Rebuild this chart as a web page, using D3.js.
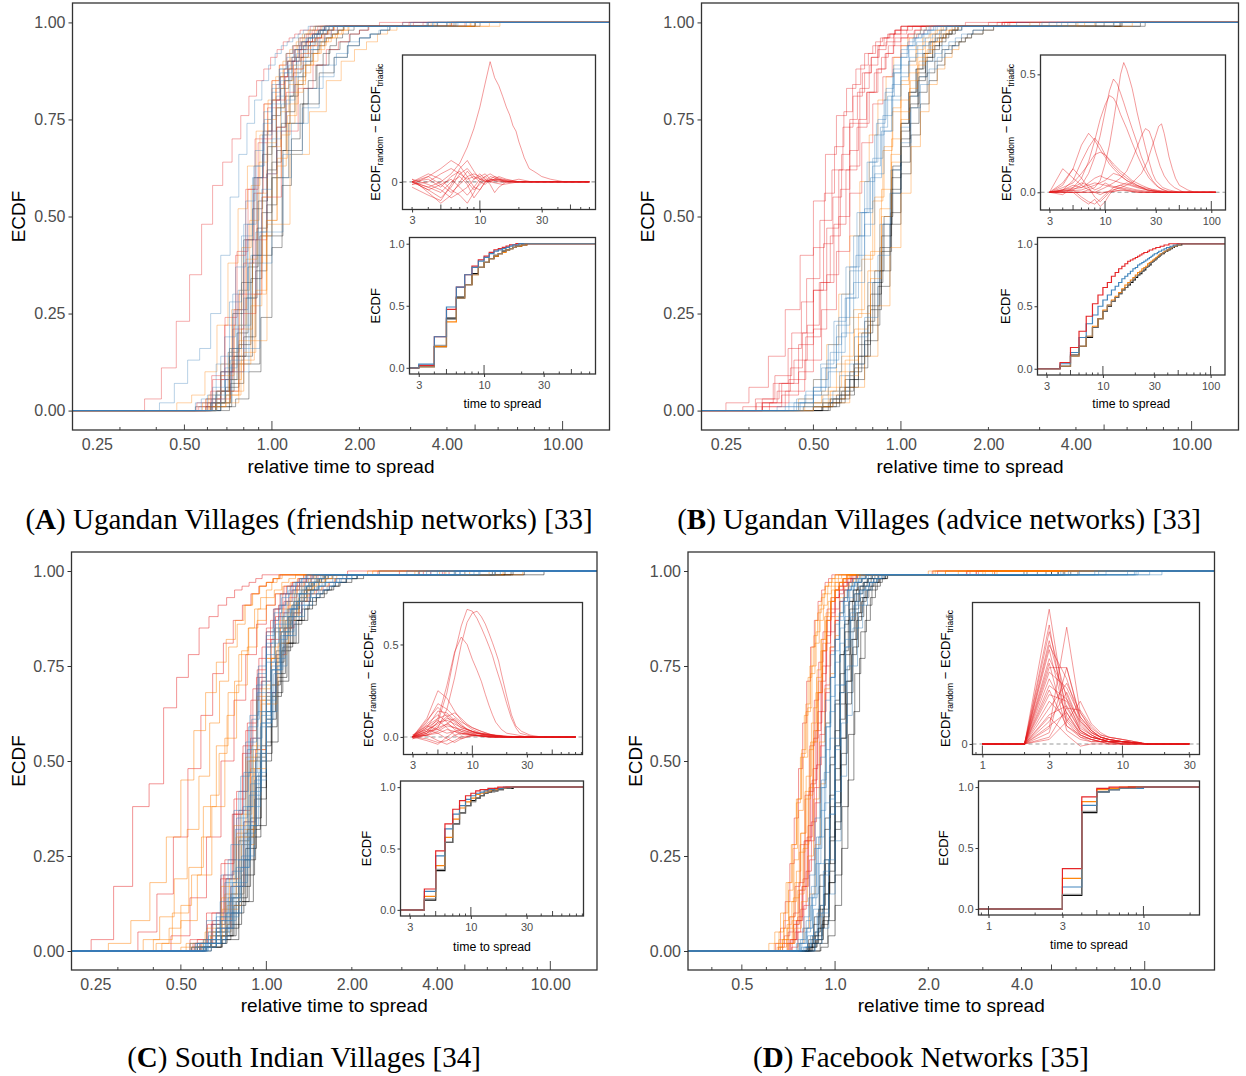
<!DOCTYPE html>
<html>
<head>
<meta charset="utf-8">
<script src="https://cdn.jsdelivr.net/npm/d3@7"></script>
<style>
body { margin: 0; background: #fff; }
svg { display: block; }
svg text { font-family: "Liberation Sans", Arial, sans-serif; }
</style>
</head>
<body>
<svg width="1246" height="1076"></svg>
<script>
// ---- data ----
// main curves: [colour, normaliser, first time, ECDF % at consecutive times, time where it hits 100%]
var curvesA = [
    ['r', 19.2, 7, [3,11,23,35,48,58,64,70,76,81,85,88,91,93,95,96,97,98,98,99,99], 45],
    ['b', 19.5, 8, [2,7,13,16,25,40,55,66,74,80,85,89,92,94,95,96,97,98,99], 55],
    ['o', 17, 8, [2,4,10,22,38,52,63,72,79,85,89,92,94,96,97,98,99], 60],
    ['b', 14, 8, [3,12,28,45,60,71,79,85,89,92,94,96,97,98,99], 50],
    ['r', 14.5, 8, [2,9,24,41,57,69,78,84,88,91,94,95,97,98,99], 48],
    ['k', 13, 8, [2,6,17,34,51,64,74,81,86,90,93,95,96,97,98,99], 55],
    ['o', 13, 8, [1,4,12,27,45,60,71,79,85,89,92,94,96,97,98,99], 65],
    ['b', 15, 9, [4,14,30,48,63,74,82,87,90,93,95,96,97,98,99], 45],
    ['k', 14, 9, [5,16,33,52,66,76,83,88,91,94,95,97,98,99], 52],
    ['r', 13.5, 8, [3,10,26,44,60,72,80,86,90,93,95,96,97,98,99], 40],
    ['o', 12.5, 8, [2,5,15,31,49,63,74,82,87,90,93,95,96,97,98,99], 70],
    ['k', 12, 8, [1,3,10,24,42,58,70,79,85,89,92,94,96,97,98,99], 60],
    ['b', 16, 10, [6,19,37,54,67,77,84,88,91,93,95,96,97,98,99], 55],
    ['r', 16, 10, [8,22,40,57,70,79,85,89,92,94,96,97,98,99], 45],
    ['o', 14, 9, [2,8,21,38,55,68,77,84,88,91,94,95,97,98,99], 58],
    ['k', 15, 10, [10,25,44,60,72,80,86,90,93,95,96,97,98,99], 62],
    ['b', 12.5, 8, [4,13,29,46,61,72,80,86,90,93,95,97,98,99], 50],
    ['o', 15.5, 10, [5,15,31,49,64,75,83,88,91,94,96,97,98,99], 75],
    ['o', 5.2, 3, [2,18,48,66,77,85,90,93,95,97,98,99], 25],
    ['k', 5.5, 3, [1,12,45,67,79,87,91,94,96,97,98,99], 22],
    ['b', 6, 4, [10,38,60,74,83,89,92,95,96,97,98,99], 28],
    ['k', 13.5, 8, [1,5,14,29,47,62,73,81,87,91,94,96,97,98,99], 58],
    ['k', 14.5, 9, [2,8,20,37,54,68,78,85,90,93,95,97,98,99], 50],
    ['k', 12.5, 8, [2,7,19,36,53,67,77,84,89,92,94,96,97,98,99], 65],
    ['o', 13.5, 8, [3,9,22,39,56,69,78,85,89,92,95,96,97,98,99], 55],
    ['o', 16.5, 10, [4,12,26,42,58,71,80,86,90,93,95,97,98,99], 60],
    ['o', 11.5, 7, [1,4,13,30,49,65,76,84,89,92,95,96,97,98,99], 70],
    ['b', 13, 8, [2,8,22,40,57,70,79,86,90,93,95,97,98,99], 48],
    ['b', 14.5, 9, [3,11,26,44,60,72,81,87,91,94,96,97,98,99], 52],
    ['b', 17, 11, [5,15,31,48,63,75,83,88,92,94,96,97,98,99], 58],
    ['r', 15, 9, [2,8,21,38,56,70,80,86,90,93,95,97,98,99], 46],
    ['r', 12.5, 7, [1,3,10,25,44,61,73,82,88,92,94,96,97,98,99], 52],
    ['r', 6.5, 4, [5,30,55,72,83,89,93,95,97,98,99], 30],
    ['b', 5.5, 3, [2,16,46,66,78,86,91,94,96,97,98,99], 24],
    ['k', 7, 5, [14,40,60,74,83,89,93,95,97,98,99], 35]
];
var curvesB = [
    ['r', 20, 5, [2,6,14,26,40,54,66,76,83,88,92,94,96,97,98,99], 40],
    ['r', 19, 6, [3,9,20,34,49,62,73,81,87,91,94,96,97,98,99], 45],
    ['r', 18, 6, [1,4,10,21,35,50,63,74,82,88,92,94,96,97,98,99], 42],
    ['r', 22, 7, [2,7,16,28,42,56,68,77,84,89,92,95,96,97,98,99], 50],
    ['r', 17, 6, [2,8,19,33,48,62,73,82,88,92,95,96,97,98,99], 38],
    ['r', 15, 5, [1,5,13,26,41,56,69,79,86,91,94,96,97,98,99], 45],
    ['r', 24, 8, [2,5,11,20,31,43,55,66,75,82,87,91,94,96,97,98,99], 40],
    ['r', 21, 6, [1,3,7,13,22,33,45,57,67,75,82,87,91,94,96,97,98,99], 45],
    ['r', 18, 6, [2,7,17,31,47,62,74,83,89,93,95,97,98,99], 40],
    ['b', 17, 7, [2,5,12,23,37,51,64,74,82,88,92,94,96,97,98,99], 55],
    ['b', 15, 6, [1,4,11,22,36,51,65,76,84,89,93,95,97,98,99], 60],
    ['b', 14, 6, [2,6,15,29,45,60,72,81,87,91,94,96,97,98,99], 50],
    ['b', 16, 6, [1,3,8,17,30,45,59,71,80,87,91,94,96,97,98,99], 55],
    ['b', 12, 6, [2,5,12,24,40,56,69,78,84,88,91,93,94,95,96,97,97,98,98,99,99], 65],
    ['b', 16, 7, [1,4,10,20,33,48,61,72,80,86,90,92,94,95,96,97,97,98,98,99,99], 60],
    ['b', 13, 6, [1,3,9,19,33,48,62,73,81,86,90,92,94,95,96,97,97,98,98,99,99], 70],
    ['b', 18, 8, [2,6,13,24,37,51,64,75,83,89,93,95,97,98,99], 55],
    ['b', 20, 9, [2,5,11,19,29,40,52,63,73,81,87,91,94,96,97,98,99], 50],
    ['o', 14, 7, [1,3,9,20,34,50,64,75,83,89,92,95,96,97,98,99], 65],
    ['o', 15, 7, [2,5,12,24,39,54,67,77,84,89,93,95,97,98,99], 60],
    ['o', 13, 6, [1,4,10,21,36,52,66,77,85,90,93,95,97,98,99], 70],
    ['o', 18, 8, [3,8,17,30,45,59,71,80,86,91,94,96,97,98,99], 50],
    ['o', 16, 8, [2,6,14,26,40,55,68,78,85,90,94,96,97,98,99], 65],
    ['o', 12, 6, [1,2,6,14,27,42,56,68,77,84,88,91,93,95,96,97,97,98,98,99,99], 75],
    ['o', 14, 7, [2,5,13,25,41,57,70,80,87,91,94,96,97,98,99], 60],
    ['k', 13, 7, [2,6,14,27,42,57,70,79,86,91,94,96,97,98,99], 75],
    ['k', 12, 6, [1,3,8,18,32,48,61,71,79,85,89,92,94,95,96,97,97,98,98,99,99], 80],
    ['k', 14, 8, [2,6,14,26,41,56,68,78,85,90,93,95,97,98,99], 70],
    ['k', 15, 8, [1,4,10,20,33,48,62,74,82,88,92,95,96,97,98,99], 85],
    ['k', 14, 7, [1,3,8,17,30,45,60,72,81,87,91,94,96,97,98,99], 80],
    ['k', 16, 9, [2,5,12,23,36,50,63,74,82,88,92,95,97,98,99], 75],
    ['k', 13, 7, [1,4,11,22,36,51,64,74,82,87,90,93,94,95,96,97,98,98,99,99], 90]
];
var curvesC = [
    ['r', 20.7, 5, [3,17,38,44,64,72,78,85,88,91,93,95,96,97,98,99], 40],
    ['o', 18, 5, [2,8,18,30,45,58,68,76,82,87,91,94,96,97,98,99], 45],
    ['r', 17, 6, [5,15,30,48,62,73,81,87,91,94,96,97,98,99], 42],
    ['o', 15, 6, [3,10,22,38,54,68,78,85,90,93,95,97,98,99], 50],
    ['o', 14, 6, [2,8,20,38,56,70,80,87,91,94,96,97,98,99], 48],
    ['r', 13, 6, [4,14,30,50,66,78,86,91,94,96,97,98,99], 45],
    ['o', 22, 9, [2,6,12,20,30,41,52,62,71,79,85,90,93,95,97,98,99], 50],
    ['o', 19, 7, [3,9,19,32,46,60,71,80,86,91,94,96,97,98,99], 45],
    ['b', 16, 9, [2,5,9,14,22,33,47,61,73,82,88,92,95,97,98,99], 55],
    ['b', 13, 7, [2,8,20,37,55,70,80,86,89,91,93,94,95,96,97,97,98,98,99,99], 70],
    ['b', 12, 7, [1,5,15,31,50,66,77,84,88,91,93,94,95,96,97,98,98,99,99], 60],
    ['b', 14, 8, [2,7,18,35,53,68,78,84,88,90,92,94,95,96,97,97,98,98,99,99], 65],
    ['b', 13.5, 8, [1,4,13,28,46,63,76,85,90,94,96,97,98,99], 65],
    ['b', 15, 9, [3,10,24,42,59,73,83,89,93,95,97,98,99], 55],
    ['b', 11, 6, [1,3,10,25,45,63,75,83,88,91,93,95,96,97,97,98,98,99,99], 70],
    ['b', 16, 10, [4,13,28,46,62,75,84,90,94,96,97,98,99], 50],
    ['b', 12.5, 8, [2,9,24,44,62,75,83,88,91,93,95,96,97,97,98,98,99,99], 60],
    ['b', 18, 11, [3,9,19,32,47,61,72,81,87,91,94,96,97,98,99], 45],
    ['b', 12, 7, [2,6,17,34,52,68,79,87,92,95,97,98,99], 55],
    ['b', 13, 8, [2,6,17,33,51,67,78,86,91,94,96,97,98,99], 60],
    ['b', 14.5, 9, [2,8,21,38,56,71,81,88,92,95,97,98,99], 55],
    ['b', 11.5, 7, [2,8,22,41,60,74,84,90,94,96,97,98,99], 65],
    ['b', 12.5, 7, [1,3,10,24,42,60,74,84,90,94,96,97,98,99], 70],
    ['b', 15, 9, [1,5,14,29,47,63,76,85,91,94,96,97,98,99], 60],
    ['b', 10.5, 6, [2,6,18,38,59,74,83,89,92,94,96,97,97,98,98,99,99], 70],
    ['o', 13, 7, [2,6,17,33,51,67,77,84,88,91,93,95,96,97,98,98,99,99], 60],
    ['o', 12.5, 7, [1,4,13,29,48,65,77,85,91,94,96,97,98,99], 65],
    ['o', 14, 8, [1,5,15,31,50,66,77,85,90,94,96,97,98,99], 60],
    ['o', 11.5, 6, [2,5,14,30,50,66,77,84,89,92,94,95,96,97,98,98,99,99], 70],
    ['o', 10, 5, [1,3,11,30,53,70,81,88,93,96,97,98,99], 80],
    ['o', 12, 7, [1,5,15,32,51,67,79,87,92,95,97,98,99], 60],
    ['o', 13.5, 8, [2,7,19,36,54,69,80,87,92,95,97,98,99], 55],
    ['o', 11, 6, [1,4,12,28,48,65,78,87,92,95,97,98,99], 75],
    ['r', 13, 7, [3,10,23,40,58,72,82,88,92,95,97,98,99], 55],
    ['r', 12, 7, [2,6,17,34,53,68,78,85,89,92,94,95,96,97,98,98,99,99], 50],
    ['r', 14.5, 8, [2,7,19,36,54,69,80,87,91,94,96,97,98,99], 55],
    ['r', 17, 10, [2,8,20,36,52,66,77,85,90,94,96,97,98,99], 50],
    ['r', 12.5, 7, [2,7,19,37,56,71,82,89,93,96,97,98,99], 55],
    ['r', 14, 8, [3,10,24,42,60,74,84,90,94,96,97,98,99], 50],
    ['k', 11, 6, [1,2,7,20,40,59,72,81,87,90,93,94,95,96,97,98,98,99,99], 80],
    ['k', 12, 7, [1,3,10,24,43,61,73,81,86,90,92,94,95,96,97,97,98,98,99,99], 75],
    ['k', 10.5, 6, [1,4,14,32,52,68,80,87,92,95,97,98,99], 85],
    ['k', 13, 8, [1,4,12,27,46,63,76,85,90,94,96,97,98,99], 90],
    ['k', 11.5, 7, [1,4,13,30,50,67,79,87,92,95,97,98,99], 85],
    ['k', 12.5, 8, [2,6,17,35,54,70,81,88,92,95,97,98,99], 80],
    ['k', 10, 6, [1,3,13,33,55,71,81,87,91,93,95,96,97,97,98,98,99,99], 95]
];
var curvesD = [
    ['o', 30, 20, [2,6,14,26,40,55,68,79,87,92,95,97,98,99], 90],
    ['o', 31, 21, [3,9,18,31,46,60,72,82,89,93,96,97,98,99], 100],
    ['o', 29, 22, [2,6,15,28,44,60,73,83,89,93,96,97,98,99], 95],
    ['o', 33, 22, [1,3,8,16,27,41,55,68,79,87,92,95,97,98,99], 75],
    ['o', 38, 25, [2,6,13,24,37,51,64,75,84,90,94,96,97,98,99], 80],
    ['o', 36, 22, [2,5,10,18,28,40,52,63,73,81,87,91,94,96,97,97,98,98,99], 110],
    ['o', 34, 24, [2,7,15,28,43,58,71,81,88,92,95,96,97,98,99], 85],
    ['o', 27, 19, [2,6,13,25,40,55,69,80,88,93,96,97,98,99], 90],
    ['o', 40, 26, [1,3,7,13,21,31,42,53,64,74,82,88,92,95,97,98,99], 80],
    ['o', 44, 28, [2,5,10,18,28,39,51,62,72,80,87,91,94,96,97,98,99], 100],
    ['o', 41, 27, [3,8,16,27,40,53,65,75,83,89,93,96,97,98,99], 85],
    ['r', 30, 21, [2,7,16,29,44,58,71,81,88,93,95,97,98,99], 80],
    ['r', 29, 21, [1,5,12,24,39,54,68,79,87,92,95,97,98,99], 95],
    ['r', 32, 23, [3,8,17,30,45,60,73,83,89,93,96,97,98,99], 85],
    ['r', 31, 22, [2,5,11,21,34,49,63,75,84,90,94,96,97,98,99], 90],
    ['r', 34, 23, [2,5,10,18,29,42,56,68,79,87,92,95,97,98,99], 70],
    ['r', 35, 23, [1,4,9,17,28,41,54,66,76,84,90,93,95,96,97,98,98,99], 100],
    ['r', 33, 24, [3,9,19,33,48,63,75,84,90,93,95,96,97,98,98,99], 90],
    ['r', 28, 20, [3,8,17,29,43,57,70,80,87,92,95,97,98,99], 80],
    ['r', 42, 27, [2,6,13,23,35,48,60,71,80,87,92,95,97,98,99], 90],
    ['b', 28, 21, [2,6,14,27,43,59,72,82,89,93,96,97,98,99], 150],
    ['b', 29, 22, [3,9,20,35,51,66,78,86,92,95,97,98,99], 200],
    ['b', 27, 21, [1,4,11,23,39,56,70,81,88,93,96,97,98,99], 280],
    ['b', 26, 20, [2,6,15,30,47,63,76,85,91,95,97,98,99], 160],
    ['b', 30, 23, [2,5,12,23,37,53,67,79,87,92,95,97,98,99], 170],
    ['b', 25, 20, [1,3,9,20,36,54,70,82,89,94,96,97,98,99], 220],
    ['b', 32, 25, [2,6,14,27,43,59,72,82,89,93,95,96,97,97,98,98,99,99], 300],
    ['b', 27, 22, [2,5,12,24,40,56,70,80,87,91,94,95,96,97,97,98,98,99,99], 250],
    ['b', 24, 19, [1,4,10,21,36,53,68,80,88,92,95,96,97,98,98,99,99], 180],
    ['b', 31, 24, [3,8,17,30,45,60,72,82,88,92,95,96,97,98,98,99], 220],
    ['b', 21, 18, [3,10,24,42,60,75,85,91,95,97,98,99], 200],
    ['b', 22, 19, [2,6,15,29,46,62,75,85,91,95,97,98,99], 250],
    ['k', 27, 22, [2,7,17,32,49,65,78,87,92,95,97,98,99], 110],
    ['k', 26, 21, [1,4,11,24,41,58,73,84,90,94,96,97,98,99], 130],
    ['k', 25, 21, [2,6,15,30,48,65,78,87,92,95,97,98,99], 120],
    ['k', 28, 23, [3,9,20,35,51,66,78,86,92,95,97,98,99], 140],
    ['k', 24, 20, [1,3,9,21,38,56,71,82,89,93,96,97,98,99], 100],
    ['k', 23, 19, [1,3,8,18,32,49,65,78,87,92,95,96,97,98,98,99,99], 140],
    ['k', 22, 18, [1,4,11,23,39,56,71,82,89,93,95,97,98,98,99,99], 120],
    ['k', 29, 24, [2,5,12,23,38,54,68,79,87,92,95,96,97,98,98,99,99], 160],
    ['k', 26, 22, [2,6,15,29,45,61,74,84,90,94,96,97,98,98,99,99], 150],
    ['k', 21, 18, [2,7,18,34,52,68,80,88,93,96,97,98,99], 110],
    ['k', 20, 18, [1,4,12,27,45,63,77,87,93,96,98,99], 90],
    ['k', 19, 17, [2,8,20,38,57,73,84,91,95,97,98,99], 100]
];

// difference curves (upper insets): flat [time, value*100, ...]
var topA = [
    [3,0, 4,-2, 5,0, 6,3, 7,7, 8,13, 9,20, 10,28, 11,37, 12,45, 13,39, 14,36, 15,32, 16,28, 17,25, 18,21, 19,19, 20,15, 21,12, 22,9, 23,7, 24,5, 26,4, 28,3, 30,2, 35,1, 45,0],
    [3,0, 4,-3, 5,-6, 6,-2, 7,3, 8,5, 9,2, 10,0, 11,-1, 12,1, 13,2, 14,1, 16,0, 20,1, 25,0],
    [3,-1, 4,2, 5,5, 6,8, 7,6, 8,2, 9,-2, 10,-3, 11,0, 12,2, 14,1, 18,0],
    [3,1, 4,-4, 5,-8, 6,-5, 7,0, 8,4, 9,1, 10,2, 11,3, 12,1, 14,0],
    [3,0, 4,3, 5,1, 6,-3, 7,-5, 8,-8, 9,-4, 10,0, 11,2, 12,3, 13,2, 15,1, 20,0],
    [3,-2, 4,-5, 5,-7, 6,-1, 7,5, 8,8, 9,4, 10,1, 11,0, 13,1, 16,0],
    [3,0, 4,1, 5,-2, 6,2, 7,4, 8,0, 9,-3, 10,-1, 11,1, 12,0, 14,2, 16,1, 20,0],
    [3,1, 4,-1, 5,-3, 6,-6, 7,-4, 8,-2, 9,1, 10,3, 11,1, 12,-1, 13,-4, 14,-2, 16,0],
    [3,0, 4,-2, 5,-4, 6,0, 7,2, 8,-1, 9,-6, 10,-3, 11,0, 12,1, 15,0],
    [3,-1, 4,0, 5,3, 6,5, 7,3, 8,1, 9,2, 10,1, 12,0, 14,1, 18,0],
    [3,0, 4,-3, 5,-1, 6,1, 7,-2, 8,-5, 9,-2, 10,1, 11,2, 12,0, 15,-1, 20,0],
    [3,0, 4,2, 5,-1, 6,-4, 7,-1, 8,2, 9,3, 10,2, 11,0, 13,1, 17,0]
];
var topB = [
    [3,0, 6,0, 8,2, 9,5, 10,12, 11,20, 12,30, 13,40, 14,50, 15,55, 16,52, 17,48, 18,44, 19,39, 20,34, 22,26, 24,19, 26,13, 28,8, 30,5, 35,2, 40,1, 50,0],
    [3,0, 5,1, 6,3, 7,8, 8,15, 9,24, 10,34, 11,43, 12,48, 13,46, 14,42, 15,38, 16,34, 18,27, 20,21, 22,15, 25,9, 28,5, 32,2, 40,0],
    [3,0, 5,2, 6,6, 7,13, 8,22, 9,31, 10,37, 11,41, 12,40, 13,37, 14,33, 16,27, 18,21, 20,16, 23,10, 26,6, 30,3, 35,1, 45,0],
    [3,0, 8,0, 10,2, 12,4, 14,6, 16,9, 18,14, 20,19, 22,24, 24,27, 26,26, 28,22, 30,17, 33,11, 36,7, 40,4, 45,2, 55,0],
    [3,0, 10,0, 14,2, 18,4, 22,8, 25,13, 28,20, 30,24, 32,28, 34,29, 36,25, 38,20, 40,15, 43,10, 46,6, 50,3, 60,1, 70,0],
    [3,0, 4,3, 5,10, 6,20, 7,25, 8,22, 9,18, 10,15, 11,12, 12,10, 14,7, 16,5, 20,3, 25,1, 35,0],
    [3,0, 4,1, 5,5, 6,13, 7,19, 8,23, 9,20, 10,16, 12,11, 14,8, 16,6, 20,3, 25,1, 35,0],
    [3,0, 4,2, 5,4, 6,8, 7,12, 8,16, 9,17, 10,16, 11,14, 12,12, 14,9, 16,7, 18,5, 22,3, 28,1, 40,0],
    [3,0, 4,10, 5,6, 6,3, 7,1, 8,0, 9,-1, 10,0, 15,1, 20,0],
    [3,0, 4,4, 5,10, 6,6, 7,2, 8,-2, 9,-4, 10,-2, 11,0, 14,1, 20,0],
    [3,0, 5,1, 6,-2, 7,-4, 8,-5, 9,-3, 10,-1, 12,2, 14,3, 16,2, 20,1, 30,0],
    [3,0, 4,1, 5,3, 6,2, 7,4, 8,6, 9,7, 10,6, 12,5, 14,4, 17,3, 20,2, 25,1, 35,0],
    [3,0, 5,0, 6,-3, 7,-5, 8,-3, 9,-6, 10,-4, 11,-1, 12,1, 14,2, 18,1, 25,0],
    [3,0, 6,1, 8,3, 10,5, 12,8, 14,7, 16,5, 19,3, 23,2, 30,1, 40,0],
    [3,0, 4,-1, 5,2, 6,4, 7,3, 8,1, 9,2, 10,4, 11,3, 13,2, 16,1, 22,0],
    [3,0, 6,2, 8,4, 10,3, 12,2, 14,3, 16,4, 18,3, 21,2, 25,1, 35,0]
];
var topC = [
    [3,0, 4,2, 5,8, 6,24, 7,45, 8,60, 9,69, 10,68, 11,64, 12,59, 13,54, 14,49, 15,44, 16,38, 18,28, 20,18, 22,10, 24,5, 26,2, 30,1, 35,0],
    [3,0, 4,1, 5,5, 6,15, 7,32, 8,50, 9,62, 10,67, 11,68, 12,65, 13,61, 14,56, 15,51, 16,46, 17,41, 18,34, 20,22, 22,12, 24,6, 27,3, 32,1, 40,0],
    [3,0, 4,3, 5,10, 6,28, 7,46, 8,54, 9,50, 10,42, 11,36, 12,30, 13,23, 14,17, 15,12, 16,8, 18,4, 20,2, 25,1, 30,0],
    [3,0, 4,10, 5,25, 6,21, 7,14, 8,9, 9,6, 10,4, 12,2, 15,1, 20,0],
    [3,0, 4,8, 5,18, 6,15, 7,11, 8,8, 10,5, 12,3, 15,1, 20,0],
    [3,0, 4,5, 5,14, 6,13, 7,9, 8,6, 10,3, 13,1, 18,0],
    [3,1, 4,6, 5,10, 6,12, 7,8, 8,5, 9,4, 11,2, 15,1, 20,0],
    [3,0, 4,3, 5,8, 6,9, 7,7, 8,5, 10,3, 13,1, 18,0],
    [3,-1, 4,2, 5,5, 6,7, 7,10, 8,7, 9,4, 11,2, 15,1, 22,0],
    [3,0, 4,-2, 5,-4, 6,0, 7,3, 8,4, 9,3, 11,1, 15,0],
    [3,1, 4,4, 5,2, 6,-1, 7,-3, 8,-1, 10,1, 13,0],
    [3,0, 4,7, 5,12, 6,8, 7,4, 8,2, 10,1, 14,0],
    [3,0, 4,1, 5,3, 6,6, 7,5, 8,4, 9,3, 11,2, 14,1, 20,0],
    [3,0, 4,-1, 5,-3, 6,-2, 7,1, 8,2, 10,1, 15,0],
    [3,0, 4,5, 5,9, 6,5, 7,1, 8,-1, 9,0, 12,1, 16,0],
    [3,0, 4,2, 5,6, 6,10, 7,9, 8,6, 9,4, 10,3, 12,2, 16,1, 25,0],
    [3,0, 4,3, 5,4, 6,2, 7,3, 8,2, 10,1, 14,0],
    [3,0, 4,9, 5,16, 6,11, 7,6, 8,3, 10,1, 15,0],
    [3,-1, 4,1, 5,-2, 6,-4, 7,-2, 8,0, 10,1, 14,0],
    [3,0, 4,4, 5,7, 6,11, 7,13, 8,10, 9,7, 10,5, 12,3, 15,1, 22,0],
    [3,0, 4,1, 5,2, 6,4, 7,3, 8,1, 9,2, 11,1, 16,0],
    [3,0, 4,6, 5,4, 6,7, 7,5, 8,3, 10,2, 14,1, 20,0]
];
var topD_t = [1, 2, 3, 4, 5, 6, 7, 8, 10, 15, 30];
var topD = [
    [0,0,60,12,5,3,2,1,1,0,0], [0,0,53,8,4,2,1,1,0,0,0], [0,0,46,16,6,3,2,1,1,0,0],
    [0,0,42,10,3,2,1,1,0,0,0], [0,0,38,22,8,4,2,2,1,0,0], [0,0,36,6,2,1,1,0,0,0,0],
    [0,0,32,25,12,6,3,2,1,0,0], [0,0,29,14,5,3,2,1,1,0,0], [0,0,26,20,10,5,3,2,1,0,0],
    [0,0,22,19,7,4,2,1,1,0,0], [0,0,19,11,4,2,1,1,0,0,0], [0,0,16,27,14,7,4,3,2,0,0],
    [0,0,13,17,6,3,2,1,1,0,0], [0,0,10,23,9,4,2,1,1,0,0], [0,0,7,52,14,6,3,2,1,0,0],
    [0,0,5,34,11,5,3,2,1,0,0], [0,0,3,16,15,8,4,3,2,0,0], [0,0,44,29,10,5,3,2,1,0,0],
    [0,0,50,20,6,3,2,1,1,0,0], [0,0,24,8,3,1,1,0,0,0,0], [0,0,12,4,-1,0,0,0,0,0,0],
    [0,0,34,34,12,6,3,2,1,0,0], [0,0,8,14,4,2,1,1,0,0,0], [0,0,2,10,19,9,5,3,2,0,0]
];
var topEndA = 70, topEndB = 110, topEndC = 80;

// pooled ECDFs (lower insets): [colour, first time, % at consecutive times]
var pooledA = [
    ['k', 3, [1,17,40,57,67,76,81,85,88,90,92,94,95,96,97,98,98,99,99,100]],
    ['o', 3, [1,17,37,56,67,75,81,85,88,90,92,93,95,96,97,98,98,99,99,100]],
    ['r', 3, [2,25,47,65,75,82,87,90,93,95,96,97,98,99,99,100]],
    ['b', 3, [3,25,49,65,75,81,86,89,92,94,95,96,97,98,99,99,100]],
    ['g', 3, [1,18,39,56,67,75,81,85,88,91,92,94,95,96,97,98,99,99,100]]
];
var pooledB = [
    ['k', 3, [0,2,11,18,25,33,40,46,50,54,57,60,63,65,67,69,71,73,75,76,78,79,81,82,83,85,86,87,88,89,90,91,92,92,93,94,94,95,95,96,96,97,97,98,98,98,99,99,99,99,99,100]],
    ['o', 3, [0,2,10,18,26,34,40,47,51,55,58,61,64,67,69,71,73,75,77,78,80,81,82,84,85,86,87,88,89,90,91,92,92,93,94,94,95,95,96,96,97,97,98,98,98,99,99,99,99,100]],
    ['b', 3, [0,4,13,25,36,43,50,55,59,63,66,69,72,74,76,78,80,81,83,84,85,86,87,88,89,90,91,92,92,93,94,94,95,95,96,96,97,97,97,98,98,98,99,99,99,99,100]],
    ['r', 3, [0,5,17,30,42,52,59,65,69,74,77,80,82,84,86,87,88,89,90,91,92,93,93,94,95,95,96,96,97,97,97,98,98,98,99,99,99,99,100]],
    ['g', 3, [0,2,10,18,26,33,40,46,51,54,57,60,63,65,68,70,72,74,75,77,78,80,81,82,84,85,86,87,88,89,90,91,92,93,93,94,95,95,96,96,97,97,98,98,98,99,99,99,99,100]]
];
var pooledC = [
    ['k', 3, [0,8,32,55,70,79,85,89,91,93,95,96,97,97,98,98,99,99,99,99,100]],
    ['o', 3, [0,11,36,59,74,83,88,91,94,95,96,97,98,98,99,99,99,100]],
    ['b', 3, [0,15,44,66,78,85,90,93,95,96,97,98,98,99,99,99,100]],
    ['r', 3, [0,17,48,70,82,89,93,95,97,98,98,99,99,99,100]],
    ['g', 3, [0,9,33,55,70,79,85,88,91,93,95,96,96,97,98,98,99,99,99,100]]
];
var pooledD = [
    ['k', 1, [0,0,11,79,96,98,99,100]],
    ['o', 1, [0,0,25,88,98,99,100]],
    ['b', 1, [0,0,18,85,96,98,99,99,99,100]],
    ['r', 1, [0,0,33,92,99,100]],
    ['g', 1, [0,0,12,80,96,98,99,99,100]]
];

var mainTicks = [0.25, 0.5, 1, 2, 4, 10];
var mainTicksD = [0.5, 1, 2, 4, 10];
var yTicks = [0, 0.25, 0.5, 0.75, 1];

// ---- drawing ----
var COL = {r: '#E41A1C', o: '#FF7F00', b: '#377EB8', k: '#000000', g: '#7F7F7F'};
var ORDER = {k: 0, r: 1, o: 2, b: 3};
var svg = d3.select('svg');
var clipN = 0;

function logticks(g, x, yb, lens){
    var dom = x.domain();
    var k0 = Math.floor(Math.log10(dom[0])), k1 = Math.ceil(Math.log10(dom[1]));
    for (var k = k0; k <= k1; k++){
        for (var m = 1; m < 10; m++){
            var v = m * Math.pow(10, k);
            if (v < dom[0] || v > dom[1]) continue;
            var len = m == 1 ? lens[0] : (m == 5 ? lens[1] : lens[2]);
            g.append('line')
                .attr('x1', x(v)).attr('x2', x(v))
                .attr('y1', yb).attr('y2', yb - len)
                .attr('stroke', '#333').attr('stroke-width', 0.9);
        }
    }
}

function frame(g, p){
    g.append('rect')
        .attr('x', p.x0).attr('y', p.y0)
        .attr('width', p.x1 - p.x0).attr('height', p.y1 - p.y0)
        .attr('fill', 'none').attr('stroke', '#333').attr('stroke-width', 1.3);
}

function clip(p){
    var id = 'clip' + (clipN++);
    svg.append('clipPath').attr('id', id).append('rect')
        .attr('x', p.x0).attr('y', p.y0)
        .attr('width', p.x1 - p.x0).attr('height', p.y1 - p.y0);
    return 'url(#' + id + ')';
}

function styleAxis(a, size){
    a.select('.domain').remove();
    a.selectAll('line').attr('stroke', '#333');
    a.selectAll('text').attr('fill', '#4D4D4D').attr('font-size', size)
        .style('font-family', '"Liberation Sans", Arial, sans-serif');
}

function mainPanel(p){
    var g = svg.append('g');
    var x = d3.scaleLog().domain(p.dom).range([p.x0, p.x1]);
    var y = d3.scaleLinear().domain([-0.05, 1.05]).range([p.y1, p.y0]);
    var line = d3.line().curve(d3.curveStepAfter)
        .x(function(d){ return x(d[0]); })
        .y(function(d){ return y(d[1]); });

    var curves = p.curves.slice().sort(function(a, b){ return ORDER[a[0]] - ORDER[b[0]]; });
    g.append('g').attr('clip-path', clip(p))
        .selectAll('path').data(curves).enter().append('path')
        .attr('d', function(c){
            var pts = [[p.dom[0], 0]];
            c[3].forEach(function(v, i){ pts.push([(c[2] + i) / c[1], v / 100]); });
            pts.push([c[4] / c[1], 1]);
            pts.push([p.dom[1], 1]);
            return line(pts);
        })
        .attr('fill', 'none')
        .attr('stroke', function(c){ return COL[c[0]]; })
        .attr('stroke-opacity', p.alpha)
        .attr('stroke-width', 0.9);

    frame(g, p);
    logticks(g, x, p.y1, [9, 5.5, 3]);

    var ya = g.append('g').attr('transform', 'translate(' + p.x0 + ',0)')
        .call(d3.axisLeft(y).tickValues(yTicks).tickFormat(d3.format('.2f')).tickSize(4).tickPadding(3));
    styleAxis(ya, 16);
    var xa = g.append('g').attr('transform', 'translate(0,' + p.y1 + ')')
        .call(d3.axisBottom(x).tickValues(p.ticks).tickFormat(d3.format(p.fmt)).tickSize(0).tickPadding(9));
    styleAxis(xa, 16);

    g.append('text').attr('x', (p.x0 + p.x1) / 2).attr('y', p.xtitleY)
        .attr('text-anchor', 'middle').attr('font-size', 19).text('relative time to spread');
    g.append('text')
        .attr('transform', 'translate(' + p.ytitleX + ',' + (p.y0 + p.y1) / 2 + ') rotate(-90)')
        .attr('text-anchor', 'middle').attr('dy', '0.35em').attr('font-size', 19).text('ECDF');
}

function insetAxes(g, p, x, y, yt, yfmt){
    var ya = g.append('g').attr('transform', 'translate(' + p.x0 + ',0)')
        .call(d3.axisLeft(y).tickValues(yt).tickFormat(yfmt).tickSize(3).tickPadding(2));
    styleAxis(ya, 11);
    var xa = g.append('g').attr('transform', 'translate(0,' + p.y1 + ')')
        .call(d3.axisBottom(x).tickValues(p.xt).tickFormat(d3.format('d')).tickSize(3).tickPadding(4));
    styleAxis(xa, 11);
    logticks(g, x, p.y1, [9, 5, 2.5]);
}

function topInset(p, lines){
    var g = svg.append('g');
    var x = d3.scaleLog().domain(p.dom).range([p.x0, p.x1]);
    var y = d3.scaleLinear().domain(p.ydom).range([p.y1, p.y0]);
    g.append('rect').attr('x', p.x0).attr('y', p.y0)
        .attr('width', p.x1 - p.x0).attr('height', p.y1 - p.y0).attr('fill', '#fff');
    g.append('line').attr('x1', p.x0).attr('x2', p.x1).attr('y1', y(0)).attr('y2', y(0))
        .attr('stroke', '#999').attr('stroke-width', 1.1).attr('stroke-dasharray', '4,3');
    var line = d3.line()
        .x(function(d){ return x(d[0]); })
        .y(function(d){ return y(d[1]); });
    g.append('g').attr('clip-path', clip(p))
        .selectAll('path').data(lines).enter().append('path')
        .attr('d', line)
        .attr('fill', 'none').attr('stroke', COL.r)
        .attr('stroke-opacity', 0.55).attr('stroke-width', 0.8);
    frame(g, p);
    insetAxes(g, p, x, y, p.yt, p.yfmt);

    var t = g.append('text')
        .attr('transform', 'translate(' + p.titleX + ',' + (p.y0 + p.y1) / 2 + ') rotate(-90)')
        .attr('text-anchor', 'middle').attr('dy', '0.35em').attr('font-size', 13);
    t.append('tspan').text('ECDF');
    t.append('tspan').attr('font-size', 8.5).attr('dy', 3).text('random');
    t.append('tspan').attr('dy', -3).text(' \u2212 ECDF');
    t.append('tspan').attr('font-size', 8.5).attr('dy', 3).text('triadic');
}

function pairLines(arrs, tEnd){
    return arrs.map(function(a){
        var pts = [];
        for (var i = 0; i < a.length; i += 2) pts.push([a[i], a[i + 1] / 100]);
        pts.push([tEnd, 0]);
        return pts;
    });
}

function bottomInset(p, series){
    var g = svg.append('g');
    var x = d3.scaleLog().domain(p.dom).range([p.x0, p.x1]);
    var y = d3.scaleLinear().domain([-0.05, 1.05]).range([p.y1, p.y0]);
    g.append('rect').attr('x', p.x0).attr('y', p.y0)
        .attr('width', p.x1 - p.x0).attr('height', p.y1 - p.y0).attr('fill', '#fff');
    var line = d3.line().curve(d3.curveStepAfter)
        .x(function(d){ return x(d[0]); })
        .y(function(d){ return y(d[1]); });
    g.append('g').attr('clip-path', clip(p))
        .selectAll('path').data(series).enter().append('path')
        .attr('d', function(s){
            var pts = [[p.dom[0], 0]];
            s[2].forEach(function(v, i){ pts.push([s[1] + i, v / 100]); });
            pts.push([p.dom[1], 1]);
            return line(pts);
        })
        .attr('fill', 'none')
        .attr('stroke', function(s){ return COL[s[0]]; })
        .attr('stroke-opacity', function(s){ return s[0] == 'g' ? 0.75 : 0.95; })
        .attr('stroke-width', 1.2);
    frame(g, p);
    insetAxes(g, p, x, y, [0, 0.5, 1], d3.format('.1f'));

    g.append('text')
        .attr('transform', 'translate(' + p.titleX + ',' + (p.y0 + p.y1) / 2 + ') rotate(-90)')
        .attr('text-anchor', 'middle').attr('dy', '0.35em').attr('font-size', 13).text('ECDF');
    g.append('text').attr('x', (p.x0 + p.x1) / 2).attr('y', p.xlabY)
        .attr('text-anchor', 'middle').attr('font-size', 12.3).text('time to spread');
}

function caption(cx, cy, letter, rest){
    var t = svg.append('text').attr('x', cx).attr('y', cy).attr('text-anchor', 'middle')
        .attr('font-size', 29).style('font-family', '"Liberation Serif", "Times New Roman", serif');
    t.append('tspan').text('(');
    t.append('tspan').attr('font-weight', 'bold').text(letter);
    t.append('tspan').text(') ' + rest);
}

var fmt0 = function(d){ return d3.format('d')(d); };
var fmt1 = d3.format('.1f');

// A
mainPanel({x0: 72.5, x1: 609.5, y0: 3, y1: 430, dom: [0.206, 14.5], ticks: mainTicks, fmt: '.2f',
    curves: curvesA, alpha: 0.4, ytitleX: 18, xtitleY: 473});
topInset({x0: 402.5, x1: 595.5, y0: 55, y1: 209.5, dom: [2.53, 78], ydom: [-0.1035, 0.475],
    yt: [0], yfmt: fmt0, xt: [3, 10, 30], titleX: 375}, pairLines(topA, topEndA));
bottomInset({x0: 409.5, x1: 595.5, y0: 237.5, y1: 374, dom: [2.53, 78], xt: [3, 10, 30],
    titleX: 375, xlabY: 408}, pooledA);

// B
mainPanel({x0: 701.5, x1: 1238.5, y0: 3, y1: 430, dom: [0.206, 14.5], ticks: mainTicks, fmt: '.2f',
    curves: curvesB, alpha: 0.42, ytitleX: 647, xtitleY: 473});
topInset({x0: 1040.5, x1: 1225.5, y0: 55, y1: 210, dom: [2.47, 136], ydom: [-0.075, 0.582],
    yt: [0, 0.5], yfmt: fmt1, xt: [3, 10, 30, 100], titleX: 1006}, pairLines(topB, topEndB));
bottomInset({x0: 1037.5, x1: 1225, y0: 237.5, y1: 375, dom: [2.47, 136], xt: [3, 10, 30, 100],
    titleX: 1005, xlabY: 408}, pooledB);

// C
mainPanel({x0: 71.5, x1: 597, y0: 552, y1: 970, dom: [0.206, 14.6], ticks: mainTicks, fmt: '.2f',
    curves: curvesC, alpha: 0.52, ytitleX: 18, xtitleY: 1012});
topInset({x0: 403.5, x1: 582.5, y0: 602.5, y1: 754.5, dom: [2.5, 92], ydom: [-0.095, 0.727],
    yt: [0, 0.5], yfmt: fmt1, xt: [3, 10, 30], titleX: 368}, pairLines(topC, topEndC));
bottomInset({x0: 400.5, x1: 583.5, y0: 781, y1: 916, dom: [2.5, 92], xt: [3, 10, 30],
    titleX: 366, xlabY: 951}, pooledC);

// D
mainPanel({x0: 688, x1: 1214.5, y0: 552, y1: 970, dom: [0.335, 16.8], ticks: mainTicksD, fmt: '.1f',
    curves: curvesD, alpha: 0.5, ytitleX: 635, xtitleY: 1012});
topInset({x0: 972.5, x1: 1199.5, y0: 602.5, y1: 754.5, dom: [0.85, 35.5], ydom: [-0.047, 0.63],
    yt: [0], yfmt: fmt0, xt: [1, 3, 10, 30], titleX: 945},
    topD.map(function(vals){ return vals.map(function(v, i){ return [topD_t[i], v / 100]; }); }));
bottomInset({x0: 978.5, x1: 1199.5, y0: 781, y1: 915, dom: [0.862, 23], xt: [1, 3, 10],
    titleX: 943, xlabY: 949}, pooledD);

caption(309, 529, 'A', 'Ugandan Villages (friendship networks) [33]');
caption(939, 529, 'B', 'Ugandan Villages (advice networks) [33]');
caption(304, 1067, 'C', 'South Indian Villages [34]');
caption(921, 1067, 'D', 'Facebook Networks [35]');
</script>
</body>
</html>
